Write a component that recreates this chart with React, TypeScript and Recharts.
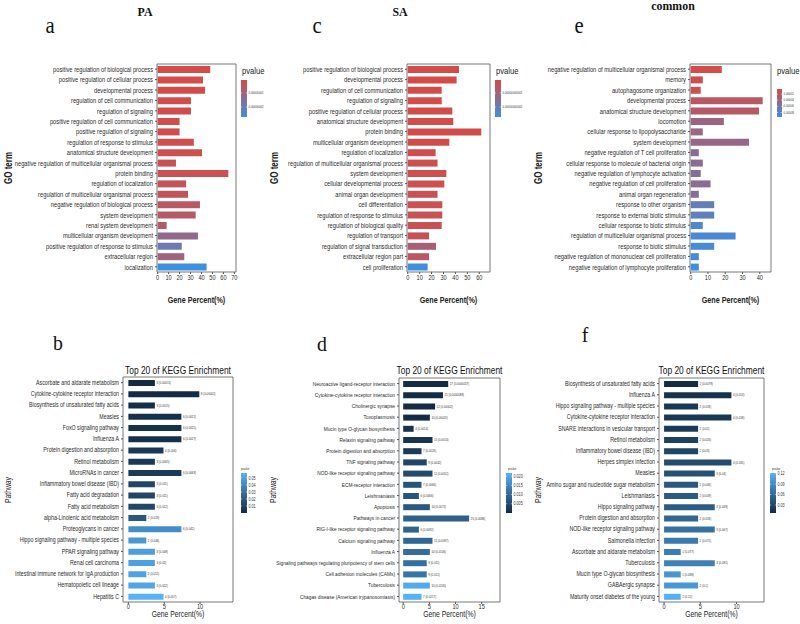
import { BarChart, Bar, XAxis, YAxis, Cell, LabelList, ReferenceArea } from 'recharts'

const SANS = "'Liberation Sans', Arial, sans-serif"
const SERIF = "'Liberation Serif', 'DejaVu Serif', serif"
const SX = 0.8 // the figure's lettering is horizontally condensed

// GO (top row)
const paTerms = [
  'positive regulation of biological process',
  'positive regulation of cellular process',
  'developmental process',
  'regulation of cell communication',
  'regulation of signaling',
  'positive regulation of cell communication',
  'positive regulation of signaling',
  'regulation of response to stimulus',
  'anatomical structure development',
  'negative regulation of multicellular organismal process',
  'protein binding',
  'regulation of localization',
  'regulation of multicellular organismal process',
  'negative regulation of biological process',
  'system development',
  'renal system development',
  'multicellular organism development',
  'positive regulation of response to stimulus',
  'extracellular region',
  'localization',
]
const paPercent = [48, 41.4, 43.2, 30.4, 30.4, 20, 20, 33, 40.5, 16.7, 64.5, 26, 27.7, 38.6, 34.7, 8.2, 36.8, 22, 24.3, 44.7]
const paPvalue = [1.3e-9, 1.6e-9, 1.6e-9, 2.1e-9, 2.1e-9, 2.4e-9, 2.4e-9, 2.6e-9, 2.9e-9, 3.9e-9, 3.4e-9, 4.5e-9, 4.7e-9, 6.0e-9, 6.6e-9, 7.4e-9, 1.26e-8, 1.92e-8, 1.03e-8, 2.71e-8]
const paLegendTicks = [1e-8, 2e-8]

const saTerms = [
  'positive regulation of biological process',
  'developmental process',
  'regulation of cell communication',
  'regulation of signaling',
  'positive regulation of cellular process',
  'anatomical structure development',
  'protein binding',
  'multicellular organism development',
  'regulation of localization',
  'regulation of multicellular organismal process',
  'system development',
  'cellular developmental process',
  'animal organ development',
  'cell differentiation',
  'regulation of response to stimulus',
  'regulation of biological quality',
  'regulation of transport',
  'regulation of signal transduction',
  'extracellular region part',
  'cell proliferation',
]
const saPercent = [43, 41, 28.5, 28.5, 37.4, 38.2, 61.7, 34.9, 23.4, 25, 32.4, 30.7, 25, 29, 29, 28.5, 17.9, 23.7, 17.9, 16.7]
const saPvalue = [1.3e-12, 1.4e-12, 1.6e-12, 1.6e-12, 1.8e-12, 1.8e-12, 2.1e-12, 2.1e-12, 2.4e-12, 2.6e-12, 2.6e-12, 2.9e-12, 3.1e-12, 3.2e-12, 3.4e-12, 3.4e-12, 3.7e-12, 8.7e-12, 6.0e-12, 2.71e-11]
const saLegendTicks = [1e-11, 2e-11]

const commonTerms = [
  'negative regulation of multicellular organismal process',
  'memory',
  'autophagosome organization',
  'developmental process',
  'anatomical structure development',
  'locomotion',
  'cellular response to lipopolysaccharide',
  'system development',
  'negative regulation of T cell proliferation',
  'cellular response to molecule of bacterial origin',
  'negative regulation of lymphocyte activation',
  'negative regulation of cell proliferation',
  'animal organ regeneration',
  'response to other organism',
  'response to external biotic stimulus',
  'cellular response to biotic stimulus',
  'regulation of multicellular organismal process',
  'response to biotic stimulus',
  'negative regulation of mononuclear cell proliferation',
  'negative regulation of lymphocyte proliferation',
]
const commonPercent = [18, 7, 5.8, 41.7, 39.6, 19.2, 7, 33.8, 4.7, 7, 5.8, 11.5, 4.7, 13.6, 13.6, 7, 26, 13.6, 4.7, 4.7]
const commonPvalue = [5.4e-6, 9.1e-6, 1.09e-5, 2.18e-5, 2.36e-5, 3.81e-5, 3.99e-5, 4.18e-5, 4.91e-5, 4.91e-5, 5.09e-5, 4.91e-5, 5.09e-5, 7.18e-5, 7.45e-5, 8.36e-5, 8.72e-5, 8.81e-5, 9.0e-5, 9.45e-5]
const commonLegendTicks = [2e-5, 4e-5, 6e-5, 8e-5]

// KEGG (bottom row)
const keggPaPathways = [
  'Ascorbate and aldarate metabolism',
  'Cytokine-cytokine receptor interaction',
  'Biosynthesis of unsaturated fatty acids',
  'Measles',
  'FoxO signaling pathway',
  'Influenza A',
  'Protein digestion and absorption',
  'Retinol metabolism',
  'MicroRNAs in cancer',
  'Inflammatory bowel disease (IBD)',
  'Fatty acid degradation',
  'Fatty acid metabolism',
  'alpha-Linolenic acid metabolism',
  'Proteoglycans in cancer',
  'Hippo signaling pathway - multiple species',
  'PPAR signaling pathway',
  'Renal cell carcinoma',
  'Intestinal immune network for IgA production',
  'Hematopoietic cell lineage',
  'Hepatitis C',
]
const keggPaCount = [3, 8, 3, 6, 6, 6, 4, 3, 6, 3, 3, 3, 2, 6, 2, 3, 3, 2, 3, 4]
const keggPaPercent = [3.7, 9.9, 3.7, 7.4, 7.4, 7.4, 4.9, 3.7, 7.4, 3.7, 3.7, 3.7, 2.5, 7.4, 2.5, 3.7, 3.7, 2.5, 3.7, 4.9]
const keggPaPvalue = [0.00015, 0.00002, 0.0015, 0.0021, 0.0025, 0.0027, 0.006, 0.0065, 0.0069, 0.011, 0.011, 0.012, 0.019, 0.042, 0.046, 0.049, 0.05, 0.051, 0.052, 0.057]
const keggPaLegendTicks = [0.01, 0.02, 0.03, 0.04, 0.05]

const keggSaPathways = [
  'Neuroactive ligand-receptor interaction',
  'Cytokine-cytokine receptor interaction',
  'Cholinergic synapse',
  'Toxoplasmosis',
  'Mucin type O-glycan biosynthesis',
  'Relaxin signaling pathway',
  'Protein digestion and absorption',
  'TNF signaling pathway',
  'NOD-like receptor signaling pathway',
  'ECM-receptor interaction',
  'Leishmaniasis',
  'Apoptosis',
  'Pathways in cancer',
  'RIG-I-like receptor signaling pathway',
  'Calcium signaling pathway',
  'Influenza A',
  'Signaling pathways regulating pluripotency of stem cells',
  'Cell adhesion molecules (CAMs)',
  'Tuberculosis',
  'Chagas disease (American trypanosomiasis)',
]
const keggSaCount = [17, 15, 12, 10, 4, 11, 7, 9, 11, 7, 6, 10, 25, 6, 11, 10, 9, 9, 10, 7]
const keggSaPercent = [8.6, 7.6, 6.1, 5.1, 2.0, 5.6, 3.5, 4.5, 5.6, 3.5, 3.0, 5.1, 12.6, 3.0, 5.6, 5.1, 4.5, 4.5, 5.1, 3.5]
const keggSaPvalue = [0.0000057, 0.0000088, 0.00002, 0.00013, 0.0014, 0.0014, 0.0026, 0.0042, 0.0052, 0.0066, 0.0066, 0.0071, 0.0086, 0.0092, 0.0097, 0.0106, 0.011, 0.012, 0.0205, 0.0217]
const keggSaLegendTicks = [0.005, 0.01, 0.015, 0.02]

const keggCommonPathways = [
  'Biosynthesis of unsaturated fatty acids',
  'Influenza A',
  'Hippo signaling pathway - multiple species',
  'Cytokine-cytokine receptor interaction',
  'SNARE interactions in vesicular transport',
  'Retinol metabolism',
  'Inflammatory bowel disease (IBD)',
  'Herpes simplex infection',
  'Measles',
  'Amino sugar and nucleotide sugar metabolism',
  'Leishmaniasis',
  'Hippo signaling pathway',
  'Protein digestion and absorption',
  'NOD-like receptor signaling pathway',
  'Salmonella infection',
  'Ascorbate and aldarate metabolism',
  'Tuberculosis',
  'Mucin type O-glycan biosynthesis',
  'GABAergic synapse',
  'Maturity onset diabetes of the young',
]
const keggCommonCount = [2, 4, 2, 4, 2, 2, 2, 4, 3, 2, 2, 3, 2, 3, 2, 1, 3, 1, 2, 1]
const keggCommonPercent = [4.7, 9.3, 4.7, 9.3, 4.7, 4.7, 4.7, 9.3, 7.0, 4.7, 4.7, 7.0, 4.7, 7.0, 4.7, 2.3, 7.0, 2.3, 4.7, 2.3]
const keggCommonPvalue = [0.0079, 0.013, 0.018, 0.018, 0.02, 0.026, 0.03, 0.035, 0.04, 0.046, 0.049, 0.049, 0.058, 0.067, 0.075, 0.077, 0.081, 0.098, 0.1, 0.12]
const keggCommonLegendTicks = [0.03, 0.06, 0.09, 0.12]

const GO_LOW = '#d84a44'
const GO_HIGH = '#3d8fdf'
const KEGG_LOW = '#132b43'
const KEGG_HIGH = '#56b1f7'

function lerpColor(a: string, b: string, t: number) {
  const ca = [1, 3, 5].map((i) => parseInt(a.slice(i, i + 2), 16))
  const cb = [1, 3, 5].map((i) => parseInt(b.slice(i, i + 2), 16))
  const k = Math.max(0, Math.min(1, t))
  return `rgb(${ca.map((v, i) => Math.round(v + (cb[i] - v) * k)).join(',')})`
}

interface Range {
  min: number
  max: number
}

const paRange = { min: 7.9e-10, max: 2.71e-8 }
const saRange = { min: 7.9e-13, max: 2.71e-11 }
const commonRange = { min: 3.6e-6, max: 9.45e-5 }
const keggPaRange = { min: 0.00002, max: 0.057 }
const keggSaRange = { min: 0.0000057, max: 0.0217 }
const keggCommonRange = { min: 0.007, max: 0.122 }

const colorsFor = (p: number[], r: Range, low: string, high: string) =>
  p.map((v) => lerpColor(low, high, (v - r.min) / (r.max - r.min)))

// condensed text: translate, rotate, then squeeze along the reading direction
function NText(props: any) {
  const { x, y, size, anchor = 'start', weight, rotate = 0, fill = '#222', baseline, dy, family = SANS, sx = SX, children } = props
  return (
    <text
      transform={`translate(${x},${y}) rotate(${rotate}) scale(${sx},1)`}
      textAnchor={anchor}
      dominantBaseline={baseline}
      dy={dy}
      fontSize={size}
      fontWeight={weight}
      fontFamily={family}
      fill={fill}
    >
      {children}
    </text>
  )
}

interface Box {
  left: number
  top: number
  right: number
  bottom: number
}

interface PanelProps {
  categories: string[]
  values: number[]
  colors: string[]
  labels?: string[]
  box: Box
  labelWidth: number
  domain: [number, number]
  ticks: number[]
  barSize: number
  tickMargin: number
  catSize: number
}

const NumberTick = (props: any) => (
  <NText x={props.x} y={props.y} size={7} anchor="middle" dy="0.71em" fill="#2b2b2b">
    {props.payload.value}
  </NText>
)

const BarValueLabel = (props: any) => {
  const { x, y, width, height, value } = props
  return (
    <NText x={x + width + 1.5} y={y + height / 2} size={3.6} baseline="central" fill="#333">
      {value}
    </NText>
  )
}

function Panel({ categories, values, colors, labels, box, labelWidth, domain, ticks, barSize, tickMargin, catSize }: PanelProps) {
  const rows = categories.map((name, i) => ({ name, value: values[i], label: labels ? labels[i] : '' }))
  const top = 4
  const xH = 14
  const right = 30
  const w = box.right - box.left
  const h = box.bottom - box.top
  return (
    <div style={{ position: 'absolute', left: box.left - labelWidth, top: box.top - top }}>
      <BarChart
        width={labelWidth + w + right}
        height={top + h + xH}
        data={rows}
        layout="vertical"
        margin={{ top, right, bottom: 0, left: 0 }}
        barCategoryGap={0}
      >
        <XAxis
          type="number"
          domain={domain}
          ticks={ticks}
          interval={0}
          allowDataOverflow
          height={xH}
          axisLine={false}
          tickSize={2}
          tickMargin={tickMargin}
          tickLine={{ stroke: '#555' }}
          tick={(p: any) => <NumberTick {...p} />}
        />
        <YAxis
          type="category"
          dataKey="name"
          width={labelWidth}
          interval={0}
          axisLine={false}
          tickSize={2}
          tickMargin={2}
          tickLine={{ stroke: '#555' }}
          tick={(p: any) => (
            <NText x={p.x} y={p.y} size={catSize} anchor="end" baseline="central" fill="#2b2b2b">
              {p.payload.value}
            </NText>
          )}
        />
        <ReferenceArea x1={domain[0]} x2={domain[1]} fill="none" stroke="#555" strokeWidth={0.8} />
        <Bar dataKey="value" barSize={barSize} isAnimationActive={false}>
          {rows.map((r, i) => (
            <Cell key={r.name} fill={colors[i]} />
          ))}
          {labels && <LabelList dataKey="label" content={(p: any) => <BarValueLabel {...p} />} />}
        </Bar>
      </BarChart>
    </div>
  )
}

interface ColorBarProps {
  x: number
  y: number
  w: number
  h: number
  low: string
  high: string
  range: Range
  ticks: number[]
  digits: number
  lowAtTop: boolean
  id: string
  fontSize: number
}

function ColorBar({ x, y, w, h, low, high, range, ticks, digits, lowAtTop, id, fontSize }: ColorBarProps) {
  const pos = (v: number) => {
    const t = (v - range.min) / (range.max - range.min)
    return lowAtTop ? y + t * h : y + h - t * h
  }
  return (
    <g>
      <defs>
        <linearGradient id={id} x1="0" y1="0" x2="0" y2="1">
          <stop offset="0" stopColor={lowAtTop ? low : high} />
          <stop offset="1" stopColor={lowAtTop ? high : low} />
        </linearGradient>
      </defs>
      <rect x={x} y={y} width={w} height={h} fill={`url(#${id})`} />
      {ticks.map((t) => (
        <g key={t}>
          <line x1={x} x2={x + 1.2} y1={pos(t)} y2={pos(t)} stroke="#fff" strokeWidth={0.5} />
          <line x1={x + w - 1.2} x2={x + w} y1={pos(t)} y2={pos(t)} stroke="#fff" strokeWidth={0.5} />
          <NText x={x + w + 1.5} y={pos(t)} size={fontSize} baseline="central" fill="#333">
            {t.toFixed(digits)}
          </NText>
        </g>
      ))}
    </g>
  )
}

const boxA = { left: 157, top: 64, right: 236, bottom: 272 }
const boxC = { left: 407, top: 64, right: 490, bottom: 272 }
const boxE = { left: 690, top: 64, right: 771, bottom: 272 }
const boxB = { left: 123, top: 377, right: 233, bottom: 602 }
const boxD = { left: 399, top: 378, right: 500, bottom: 602 }
const boxF = { left: 659, top: 378, right: 764, bottom: 602 }

const keggLabels = (count: number[], p: number[]) => count.map((c, i) => `${c} (${p[i]})`)
const mid = (b: Box) => (b.left + b.right) / 2

export default function App() {
  return (
    <div style={{ position: 'absolute', left: 0, top: 0, width: 800, height: 624, background: '#fff', overflow: 'hidden' }}>
      <Panel
        categories={paTerms}
        values={paPercent}
        colors={colorsFor(paPvalue, paRange, GO_LOW, GO_HIGH)}
        box={boxA}
        labelWidth={157}
        domain={[-0.6, 71.5]}
        ticks={[0, 10, 20, 30, 40, 50, 60, 70]}
        barSize={7}
        tickMargin={1}
        catSize={7.2}
      />
      <Panel
        categories={saTerms}
        values={saPercent}
        colors={colorsFor(saPvalue, saRange, GO_LOW, GO_HIGH)}
        box={boxC}
        labelWidth={140}
        domain={[-0.6, 69]}
        ticks={[0, 10, 20, 30, 40, 50, 60]}
        barSize={7}
        tickMargin={1}
        catSize={7.2}
      />
      <Panel
        categories={commonTerms}
        values={commonPercent}
        colors={colorsFor(commonPvalue, commonRange, GO_LOW, GO_HIGH)}
        box={boxE}
        labelWidth={160}
        domain={[-0.4, 46.5]}
        ticks={[0, 10, 20, 30, 40]}
        barSize={7}
        tickMargin={1}
        catSize={7.2}
      />
      <Panel
        categories={keggPaPathways}
        values={keggPaPercent}
        colors={colorsFor(keggPaPvalue, keggPaRange, KEGG_LOW, KEGG_HIGH)}
        labels={keggLabels(keggPaCount, keggPaPvalue)}
        box={boxB}
        labelWidth={123}
        domain={[-0.75, 14.6]}
        ticks={[0, 5, 10]}
        barSize={6}
        tickMargin={0}
        catSize={6.6}
      />
      <Panel
        categories={keggSaPathways}
        values={keggSaPercent}
        colors={colorsFor(keggSaPvalue, keggSaRange, KEGG_LOW, KEGG_HIGH)}
        labels={keggLabels(keggSaCount, keggSaPvalue)}
        box={boxD}
        labelWidth={135}
        domain={[-0.8, 18.5]}
        ticks={[0, 5, 10, 15]}
        barSize={6}
        tickMargin={0}
        catSize={6.0}
      />
      <Panel
        categories={keggCommonPathways}
        values={keggCommonPercent}
        colors={colorsFor(keggCommonPvalue, keggCommonRange, KEGG_LOW, KEGG_HIGH)}
        labels={keggLabels(keggCommonCount, keggCommonPvalue)}
        box={boxF}
        labelWidth={135}
        domain={[-0.7, 13.8]}
        ticks={[0, 5, 10]}
        barSize={6}
        tickMargin={0}
        catSize={6.6}
      />

      <svg width={800} height={624} style={{ position: 'absolute', left: 0, top: 0, pointerEvents: 'none' }}>
        {/* column titles */}
        <NText x={145} y={16} size={12.5} anchor="middle" family={SERIF} weight="bold" fill="#111" sx={0.95}>PA</NText>
        <NText x={400} y={16} size={12.5} anchor="middle" family={SERIF} weight="bold" fill="#111" sx={0.95}>SA</NText>
        <NText x={673} y={10} size={12.5} anchor="middle" family={SERIF} weight="bold" fill="#111" sx={0.95}>common</NText>

        {/* panel letters */}
        <NText x={50} y={33} size={23} anchor="middle" family={SERIF} fill="#111" sx={0.9}>a</NText>
        <NText x={317} y={33} size={23} anchor="middle" family={SERIF} fill="#111" sx={0.9}>c</NText>
        <NText x={579} y={33} size={23} anchor="middle" family={SERIF} fill="#111" sx={0.9}>e</NText>
        <NText x={58} y={350} size={22} anchor="middle" family={SERIF} fill="#111" sx={0.9}>b</NText>
        <NText x={322} y={351} size={22} anchor="middle" family={SERIF} fill="#111" sx={0.9}>d</NText>
        <NText x={585} y={342} size={22} anchor="middle" family={SERIF} fill="#111" sx={0.9}>f</NText>

        {/* GO axis titles and legend headings */}
        {[
          { x: 9, b: boxA },
          { x: 275, b: boxC },
          { x: 539, b: boxE },
        ].map(({ x, b }) => (
          <g key={x}>
            <NText x={x} y={168} rotate={-90} size={10} anchor="middle" baseline="central" weight="bold" fill="#222">
              GO term
            </NText>
            <NText x={mid(b)} y={303} size={9} anchor="middle" weight="bold" fill="#222">
              Gene Percent(%)
            </NText>
            <NText x={b.right + 6} y={74} size={9.5} fill="#222">pvalue</NText>
          </g>
        ))}

        <ColorBar id="gA" x={241} y={80} w={6} h={37} low={GO_LOW} high={GO_HIGH} range={paRange} ticks={paLegendTicks} digits={8} lowAtTop fontSize={3.6} />
        <ColorBar id="gC" x={495} y={80} w={6} h={37} low={GO_LOW} high={GO_HIGH} range={saRange} ticks={saLegendTicks} digits={11} lowAtTop fontSize={3.6} />
        <ColorBar id="gE" x={777} y={89} w={5} h={28} low={GO_LOW} high={GO_HIGH} range={commonRange} ticks={commonLegendTicks} digits={5} lowAtTop fontSize={3.6} />

        {/* KEGG titles */}
        {[
          { x: 8, b: boxB },
          { x: 273, b: boxD },
          { x: 538, b: boxF },
        ].map(({ x, b }) => (
          <g key={x}>
            <NText x={mid(b)} y={374} size={10.5} anchor="middle" fill="#111">
              Top 20 of KEGG Enrichment
            </NText>
            <NText x={x} y={490} rotate={-90} size={8.5} anchor="middle" baseline="central" fill="#222">
              Pathway
            </NText>
            <NText x={mid(b)} y={617} size={8.5} anchor="middle" fill="#222">
              Gene Percent(%)
            </NText>
            <NText x={b.right + 8} y={470} size={3.6} fill="#333">pvalue</NText>
          </g>
        ))}

        <ColorBar id="kB" x={241} y={473} w={6} h={40} low={KEGG_LOW} high={KEGG_HIGH} range={keggPaRange} ticks={keggPaLegendTicks} digits={2} lowAtTop={false} fontSize={4.6} />
        <ColorBar id="kD" x={506} y={473} w={6} h={40} low={KEGG_LOW} high={KEGG_HIGH} range={keggSaRange} ticks={keggSaLegendTicks} digits={3} lowAtTop={false} fontSize={4.6} />
        <ColorBar id="kF" x={770} y={473} w={6} h={40} low={KEGG_LOW} high={KEGG_HIGH} range={keggCommonRange} ticks={keggCommonLegendTicks} digits={2} lowAtTop={false} fontSize={4.6} />
      </svg>
    </div>
  )
}
